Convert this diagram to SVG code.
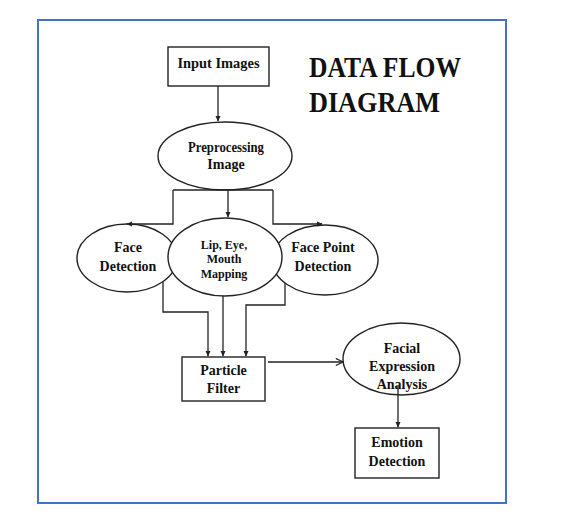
<svg xmlns="http://www.w3.org/2000/svg" width="582" height="526" viewBox="0 0 582 526">
<style>
.n{fill:#fff;stroke:#222;stroke-width:1.4}
.t{font-family:"Liberation Serif",serif;font-weight:bold;font-size:14px;fill:#111;text-anchor:middle}
.s{font-size:12px}
.c{fill:none;stroke:#222;stroke-width:1.3}
.h{font-family:"Liberation Serif",serif;font-weight:bold;font-size:30px;fill:#111}
</style>
<defs>
<marker id="a" viewBox="0 0 8 8" refX="7" refY="4" markerWidth="6" markerHeight="6" orient="auto" markerUnits="userSpaceOnUse">
<path d="M0,0.5 L8,4 L0,7.5 Z" fill="#222"/>
</marker>
<marker id="v" viewBox="0 0 10 10" refX="9" refY="5" markerWidth="9" markerHeight="9" orient="auto" markerUnits="userSpaceOnUse">
<path d="M1,1 L9,5 L1,9" fill="none" stroke="#222" stroke-width="1.3"/>
</marker>
</defs>
<rect x="38" y="20" width="468" height="483" fill="#fff" stroke="#4472C4" stroke-width="2"/>
<g id="title">
<text class="h" x="309" y="77" textLength="152" lengthAdjust="spacingAndGlyphs">DATA FLOW</text>
<text class="h" x="309" y="112" textLength="131" lengthAdjust="spacingAndGlyphs">DIAGRAM</text>
</g>
<g id="input">
<rect class="n" x="168" y="47" width="101" height="39"/>
<text class="t" x="218.5" y="68" textLength="82" lengthAdjust="spacingAndGlyphs">Input Images</text>
</g>
<g id="preprocessing">
<ellipse class="n" cx="225" cy="156" rx="67" ry="34"/>
<text class="t" x="226" y="152" textLength="76" lengthAdjust="spacingAndGlyphs">Preprocessing</text>
<text class="t" x="226" y="169">Image</text>
</g>
<g id="face-detection">
<ellipse class="n" cx="127" cy="258" rx="50" ry="34"/>
<text class="t" x="128" y="252">Face</text>
<text class="t" x="128" y="271">Detection</text>
</g>
<g id="face-point-detection">
<ellipse class="n" cx="325" cy="260" rx="53" ry="35"/>
<text class="t" x="323" y="252">Face Point</text>
<text class="t" x="323" y="271">Detection</text>
</g>
<g id="lip-eye-mouth">
<ellipse class="n" cx="225" cy="257" rx="57" ry="39"/>
<text class="t s" x="224" y="249">Lip, Eye,</text>
<text class="t s" x="224" y="263">Mouth</text>
<text class="t s" x="224" y="278">Mapping</text>
</g>
<g id="particle-filter">
<rect class="n" x="182" y="357" width="83" height="44"/>
<text class="t" x="223.5" y="375">Particle</text>
<text class="t" x="223.5" y="393">Filter</text>
</g>
<g id="facial-expression">
<ellipse class="n" cx="401.5" cy="359" rx="58.5" ry="36"/>
<text class="t" x="402" y="353">Facial</text>
<text class="t" x="402" y="371">Expression</text>
<text class="t" x="402" y="389">Analysis</text>
</g>
<g id="emotion-detection">
<rect class="n" x="355" y="428" width="84" height="50"/>
<text class="t" x="397" y="447">Emotion</text>
<text class="t" x="397" y="466">Detection</text>
</g>
<g id="connectors">
<path class="c" d="M218,86 V121" marker-end="url(#a)"/>
<path class="c" d="M173,190 H273"/>
<path class="c" d="M173,190 V224 H127" marker-end="url(#a)"/>
<path class="c" d="M273,190 V224 H322" marker-end="url(#a)"/>
<path class="c" d="M228,190 V217" marker-end="url(#a)"/>
<path class="c" d="M163,282 V312 H208 V356" marker-end="url(#a)"/>
<path class="c" d="M223,296 V356" marker-end="url(#a)"/>
<path class="c" d="M285,283 V305 H246 V356" marker-end="url(#a)"/>
<path class="c" d="M268,362 H343" marker-end="url(#v)"/>
<path class="c" d="M398,386 V427" marker-end="url(#a)"/>
</g>
</svg>
